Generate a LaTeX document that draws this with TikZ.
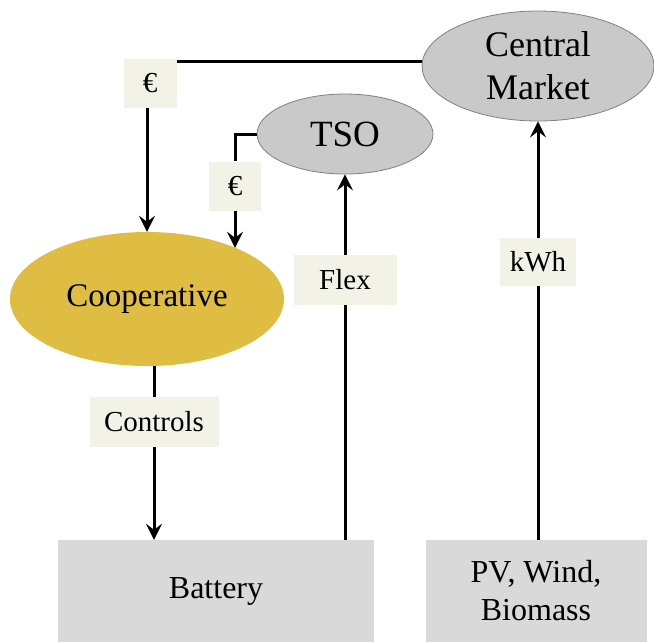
\documentclass[tikz,border=0pt]{standalone}
\usepackage{fontspec}
\setmainfont{LiberationSerif}[Extension=.ttf, UprightFont=*-Regular, BoldFont=*-Bold, ItalicFont=*-Italic, BoldItalicFont=*-BoldItalic]
\usetikzlibrary{arrows.meta, shapes.geometric, positioning}

\definecolor{coopgold}{RGB}{222,189,66}
\definecolor{ovalgray}{RGB}{201,201,201}
\definecolor{boxgray}{RGB}{217,217,217}
\definecolor{tagbeige}{RGB}{242,242,230}

\tikzset{
  oval/.style={ellipse, draw=gray, line width=0.8pt, fill=ovalgray, inner sep=0pt, align=center},
  unitbox/.style={rectangle, fill=boxgray, inner sep=0pt, align=center, font=\fontsize{32}{38}\selectfont},
  tag/.style={rectangle, fill=tagbeige, inner sep=0pt, font=\fontsize{29}{34}\selectfont},
  link/.style={line width=3pt},
  flow/.style={line width=3pt, -{Stealth[length=16pt, width=16pt, inset=6pt]}}
}

\begin{document}
\begin{tikzpicture}[x=1pt, y=-1pt]
\useasboundingbox (0,0) rectangle (654,641);

% actors
\node[oval, minimum width=232pt, minimum height=110pt, font=\fontsize{36}{43}\selectfont] (market) at (538,66) {Central\\Market};
\node[oval, minimum width=176pt, minimum height=80pt, font=\fontsize{37}{40}\selectfont] (tso) at (345,134) {TSO};
\node[ellipse, fill=coopgold, inner sep=0pt, minimum width=274pt, minimum height=134pt, font=\fontsize{33}{38}\selectfont] (coop) at (147,299) {Cooperative};
\node[unitbox, minimum width=316pt, minimum height=102pt] (battery) at (216,591) {Battery};
\node[unitbox, minimum width=221pt, minimum height=102pt] (renew) at (536,591) {PV, Wind,\\Biomass};

% labels on the links
\node[tag, minimum width=53pt, minimum height=49pt] (payA) at (150,83) {€};
\node[tag, minimum width=52pt, minimum height=49pt] (payB) at (235,186) {€};
\node[tag, minimum width=129pt, minimum height=50pt] (ctrl) at (154,422) {Controls};
\node[tag, minimum width=103pt, minimum height=50pt] (flex) at (345,280) {Flex};
\node[tag, minimum width=76pt, minimum height=48pt] (kwh) at (538,262) {kWh};

% money
\draw[link] (market.178) -- (payA.east |- market.178);
\draw[flow] (payA.south -| coop.north) -- (coop.north);
\draw[link] (tso.west) -| (payB.north);
\draw[flow] (payB.south) -- (payB.south |- coop.30);

% control and energy
\draw[link] (ctrl.north |- coop.south) -- (ctrl.north);
\draw[flow] (ctrl.south) -- (ctrl.south |- battery.north);
\draw[link] (battery.north -| flex) -- (flex.south);
\draw[flow] (flex.north) -- (tso.south);
\draw[link] (renew.north -| kwh) -- (kwh.south);
\draw[flow] (kwh.north) -- (market.south);

\end{tikzpicture}
\end{document}
